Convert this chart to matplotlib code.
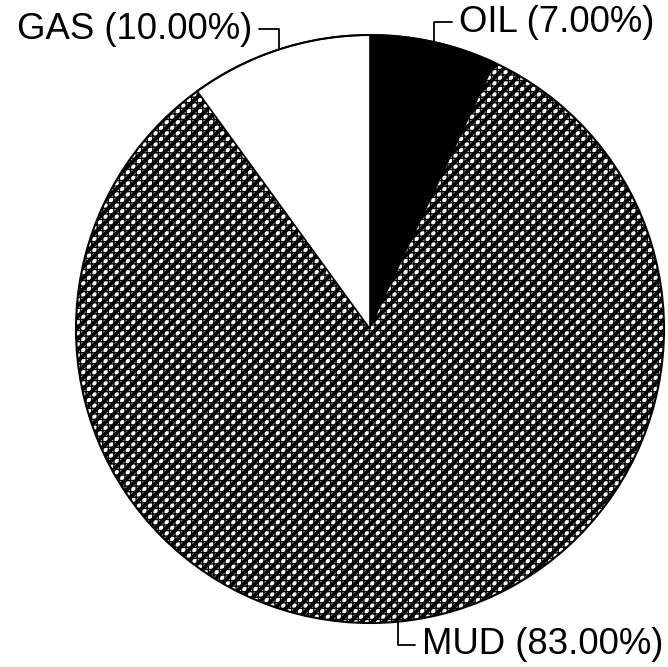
import numpy as np
import matplotlib
matplotlib.use('Agg')
import matplotlib.pyplot as plt
from matplotlib.patches import Wedge, Circle

labels = ['OIL', 'MUD', 'GAS']
shares = [7.00, 83.00, 10.00]
colors = ['black', 'black', 'white']

# label placement: text offset from the wedge edge (pixels), alignment
offsets = {'OIL': (25, 20, 'left'), 'MUD': (24, -23, 'left'), 'GAS': (-27, 20, 'right')}

plt.rcParams['font.family'] = ['Liberation Sans', 'DejaVu Sans']
plt.rcParams['hatch.linewidth'] = 2.8

fig = plt.figure(figsize=(6.68, 6.67), dpi=100)
ax = fig.add_axes([0, 0, 1, 1])

wedges, _ = ax.pie(shares, colors=colors, startangle=90, counterclock=False,
                   wedgeprops=dict(edgecolor='black', linewidth=1.2))

# pie centre at about (370, 329) px, radius ~294 px
r_px = 294.0
ax.set_xlim(-370 / r_px, (668 - 370) / r_px)
ax.set_ylim(-(667 - 329) / r_px, 329 / r_px)
ax.set_aspect('equal')
ax.axis('off')

# MUD: black with white diagonal texture, broken by a fine black grid
mud = wedges[1]
mud.set_hatch('///')
mud.set_edgecolor('white')
mud.set_linewidth(0)
plt.rcParams['hatch.linewidth'] = 1.0
grid = Wedge((0, 0), 1, mud.theta1, mud.theta2, facecolor='none',
             edgecolor='black', hatch='+++', linewidth=0)
ax.add_patch(grid)
ax.add_patch(Circle((0, 0), 1, fill=False, edgecolor='black', linewidth=1.5))

for w, lab, val in zip(wedges, labels, shares):
    ang = np.deg2rad((w.theta1 + w.theta2) / 2)
    x, y = np.cos(ang), np.sin(ang)
    dx, dy, ha = offsets[lab]
    ax.annotate(f'{lab} ({val:.2f}%)', xy=(x, y), xytext=(dx, dy),
                textcoords='offset pixels', ha=ha, va='center', fontsize=26.3,
                annotation_clip=False,
                arrowprops=dict(arrowstyle='-', color='black', lw=1.3,
                                shrinkA=3, shrinkB=0,
                                relpos=(1 if ha == 'right' else 0, 0.5),
                                connectionstyle='angle,angleA=0,angleB=90,rad=0'))

plt.savefig('out.png', dpi=100)
